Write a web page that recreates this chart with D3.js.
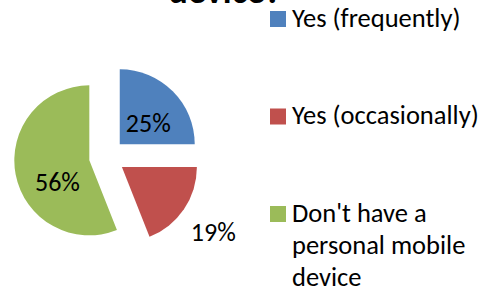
<!DOCTYPE html>
<html>
<head>
<meta charset="utf-8">
<script src="https://cdn.jsdelivr.net/npm/d3@7"></script>
<style>
  body { margin: 0; background: #fff; }
  svg { display: block; font-family: Carlito, Calibri, Lato, sans-serif; }
</style>
</head>
<body>
<div id="chart"></div>
<script>
(function (d3) {
    'use strict';

    // Data.
    var categories = ['Yes (frequently)', 'Yes (occasionally)', "Don't have a personal mobile device"];
    var values = [25, 19, 56];
    var percentLabels = ['25%', '19%', '56%'];
    var legendLines = [
        ['Yes (frequently)'],
        ['Yes (occasionally)'],
        ["Don't have a", 'personal mobile', 'device']
    ];
    var colors = ['#4F81BD', '#C0504D', '#9BBB59'];
    var titleTail = 'device?';

    var width = 484;
    var height = 291;
    var cx = 107;
    var cy = 157;
    var radius = 75;
    var explode = 18;

    // Excel's "best fit" label spots, relative to the plain centroid.
    var labelNudge = [[2, 5], [-1, 2], [5, 14]];

    var svg = d3.select('#chart').append('svg')
        .attr('width', width)
        .attr('height', height);

    // Title, mostly cut off at the top.
    svg.append('text')
        .attr('x', 225)
        .attr('y', 3)
        .attr('text-anchor', 'middle')
        .attr('font-weight', 'bold')
        .attr('font-size', 36)
        .text(titleTail);

    var pie = d3.pie().sort(null).value(function (d) { return d; });
    var arcs = pie(values);

    var arc = d3.arc().innerRadius(0).outerRadius(radius);

    function offset(d) {
        var a = (d.startAngle + d.endAngle) / 2;
        return [Math.sin(a) * explode, -Math.cos(a) * explode];
    }

    var slices = svg.append('g')
        .attr('transform', 'translate(' + cx + ',' + cy + ')')
        .selectAll('g')
        .data(arcs)
        .enter().append('g')
        .attr('transform', function (d) {
            var o = offset(d);
            return 'translate(' + o[0] + ',' + o[1] + ')';
        });

    slices.append('path')
        .attr('d', arc)
        .attr('fill', function (d, i) { return colors[i]; });

    // Small slice gets its label outside.
    slices.append('text')
        .attr('transform', function (d, i) {
            var r = i === 1 ? radius * 1.49 : radius * 0.5;
            var c = d3.arc().innerRadius(r).outerRadius(r).centroid(d);
            return 'translate(' + (c[0] + labelNudge[i][0]) + ',' + (c[1] + labelNudge[i][1]) + ')';
        })
        .attr('dy', '0.35em')
        .attr('text-anchor', 'middle')
        .attr('font-size', 26)
        .attr('fill', '#000')
        .text(function (d, i) { return percentLabels[i]; });

    // Legend
    var legend = svg.append('g')
        .attr('transform', 'translate(270,11)')
        .selectAll('g')
        .data(categories)
        .enter().append('g')
        .attr('transform', function (d, i) { return 'translate(0,' + (i * 97.5) + ')'; });

    legend.append('rect')
        .attr('width', 16)
        .attr('height', 16)
        .attr('fill', function (d, i) { return colors[i]; });

    legend.append('text')
        .attr('x', 22)
        .attr('y', 15.5)
        .attr('font-size', 26.5)
        .attr('fill', '#000')
        .selectAll('tspan')
        .data(function (d, i) { return legendLines[i]; })
        .enter().append('tspan')
        .attr('x', 22)
        .attr('dy', function (d, j) { return j === 0 ? 0 : 32; })
        .text(function (d) { return d; });

})(d3);
</script>
</body>
</html>
